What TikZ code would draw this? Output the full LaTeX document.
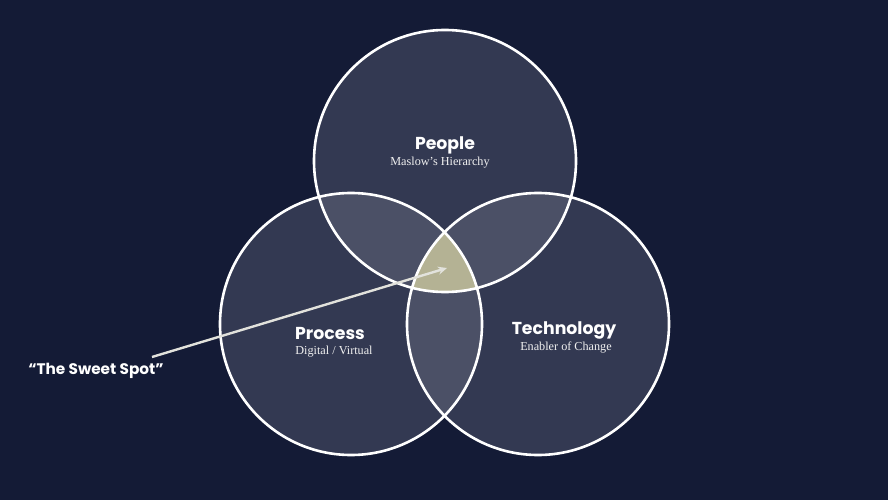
\documentclass[tikz,border=0pt]{standalone}
\usepackage{fontspec}
\setmainfont{Liberation Serif}
\newfontfamily\headfont{Poppins}[UprightFont=* SemiBold,BoldFont=* Bold]
\usetikzlibrary{arrows.meta}
\definecolor{bg}{HTML}{141B36}
\definecolor{circ}{HTML}{333952}
\definecolor{ovl}{HTML}{4B5066}
\definecolor{sweet}{HTML}{B4B294}
\definecolor{arrowc}{HTML}{E2E2DC}
\begin{document}
\begin{tikzpicture}[x=1pt,y=-1pt,
  title/.style={font=\headfont\bfseries\fontsize{17.3}{20}\selectfont, text=white, inner sep=0pt},
  sub/.style={font=\fontsize{12.2}{14}\selectfont, text=white!88!gray, inner sep=0pt},
  ring/.style={draw=white, line width=2.6pt}]
\fill[bg] (0,0) rectangle (888,500);
\useasboundingbox (0,0) rectangle (888,500);
\def\rr{131}
\coordinate (P) at (445,161);
\coordinate (R) at (351,324);
\coordinate (T) at (538,324);
% base fills
\fill[circ] (P) circle (\rr);
\fill[circ] (R) circle (\rr);
\fill[circ] (T) circle (\rr);
% pairwise overlaps
\begin{scope}\clip (P) circle (\rr); \fill[ovl] (R) circle (\rr); \fill[ovl] (T) circle (\rr);\end{scope}
\begin{scope}\clip (R) circle (\rr); \fill[ovl] (T) circle (\rr);\end{scope}
% triple
\begin{scope}\clip (P) circle (\rr); \clip (R) circle (\rr); \fill[sweet] (T) circle (\rr);\end{scope}
% outlines
\draw[ring] (P) circle (\rr);
\draw[ring] (R) circle (\rr);
\draw[ring] (T) circle (\rr);
% labels
\node[title] (pt) at (445,145) {People};
\node[sub] (ps) at (440,163) {Maslow’s Hierarchy};
\node[title] (rt) at (330,333) {Process};
\node[sub] (rs) at (334,352) {Digital / Virtual};
\node[title] (tt) at (564,330) {Technology};
\node[sub] (ts) at (566,348) {Enabler of Change};
\node[font=\headfont\bfseries\fontsize{15.3}{18}\selectfont, text=white, inner sep=0pt] (sw) at (96,371) {“The Sweet Spot”};
\coordinate (a0) at (152,357);
\coordinate (a1) at (447,268);
\draw[arrowc, line width=2.4pt, -{Stealth[length=9pt,width=8pt]}] (a0) -- (a1);
\end{tikzpicture}
\end{document}
